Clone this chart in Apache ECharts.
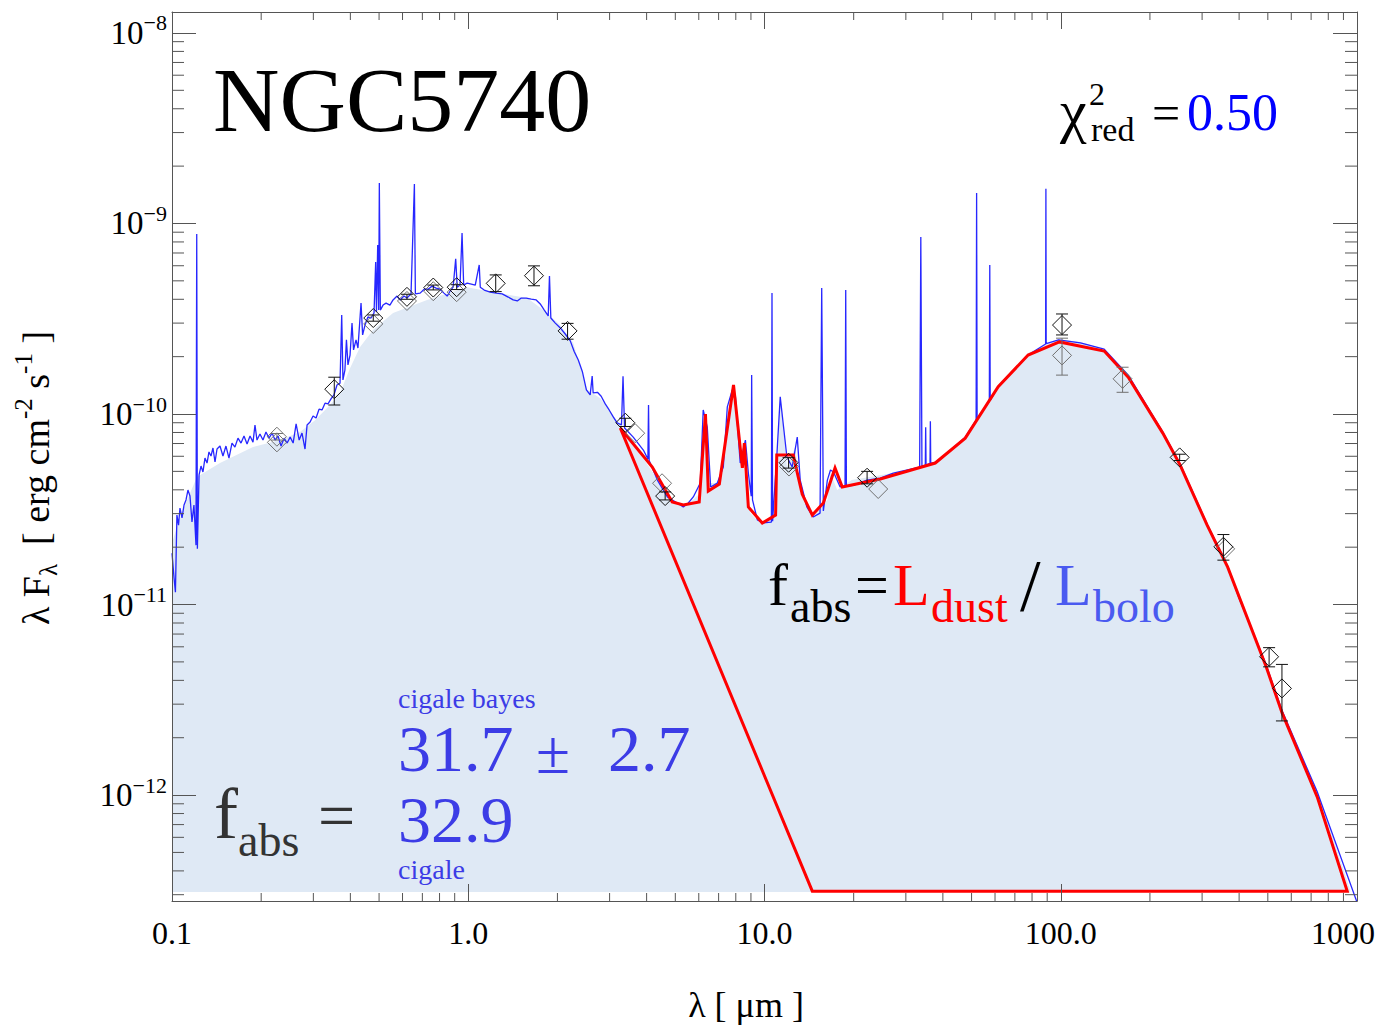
<!DOCTYPE html>
<html><head><meta charset="utf-8">
<script src="https://cdn.jsdelivr.net/npm/echarts@6.0.0/dist/echarts.min.js"></script>
<style>html,body{margin:0;padding:0;background:#fff;}#c{width:1383px;height:1027px;}</style>
</head><body><div id="c"></div>
<script>
// ---------------- DATA ----------------
// Axis ranges (micron, erg cm^-2 s^-1)
const X_MIN = 0.1, X_MAX = 1000;
const Y_MIN = 2.78e-13, Y_MAX = 1.288e-8;
const FILL_BASE = 3.1e-13;               // floor of the shaded model
const xTickExponents = [-1, 0, 1, 2, 3];
const xTickLabels = ['0.1', '1.0', '10.0', '100.0', '1000'];
const yTickExponents = [-12, -11, -10, -9, -8];
const yTickLabels = ['\u221212', '\u221211', '\u221210', '\u22129', '\u22128'];

// high-resolution model spectrum (blue line, with emission lines)
const specWave = [0.100,0.1016,0.1027,0.1039,0.1052,0.1064,0.1081,0.1098,0.1115,0.1132,0.1150,0.1168,0.1186,0.1205,0.1212,0.1218,0.1234,0.1253,0.1272,0.1292,0.1313,0.1333,0.1354,0.1375,0.1397,0.1419,0.1452,0.1486,0.1521,0.1557,0.1594,0.1631,0.1670,0.1710,0.1750,0.1792,0.1834,0.1877,0.1906,0.1936,0.1981,0.2028,0.2076,0.2125,0.2176,0.2228,0.2280,0.2334,0.2390,0.2447,0.2505,0.2564,0.2624,0.2687,0.2747,0.2812,0.2857,0.2925,0.2993,0.3064,0.3136,0.3209,0.3285,0.3362,0.3441,0.3522,0.3605,0.3691,0.374,0.3776,0.3834,0.388,0.3926,0.399,0.4052,0.410,0.418,0.4243,0.4346,0.440,0.4482,0.4585,0.4697,0.4808,0.487,0.490,0.4947,0.4985,0.501,0.505,0.5157,0.528,0.544,0.5574,0.575,0.5886,0.607,0.621,0.641,0.658,0.663,0.688,0.710,0.732,0.755,0.779,0.803,0.828,0.849,0.868,0.889,0.907,0.918,0.938,0.953,0.965,0.992,1.024,1.056,1.089,1.098,1.132,1.186,1.243,1.302,1.364,1.418,1.464,1.510,1.570,1.632,1.696,1.750,1.806,1.862,1.88,1.90,1.967,2.045,2.125,2.21,2.28,2.352,2.43,2.505,2.58,2.62,2.64,2.73,2.81,2.90,2.99,3.09,3.18,3.29,3.33,3.37,3.605,3.90,4.04,4.06,4.08,4.35,4.70,5.08,5.32,5.53,5.75,6.07,6.21,6.41,6.58,6.93,7.26,7.49,7.79,7.98,8.28,8.62,8.82,9.02,9.05,9.11,9.46,9.90,10.55,10.6,10.65,11.0,11.3,11.9,12.4,12.9,13.2,13.9,14.6,15.4,15.6,15.8,16.3,16.7,17.1,18.0,18.7,18.8,18.9,19.9,22.2,24.6,27.2,33.4,33.7,34.0,34.9,35.0,35.1,36.2,36.3,36.4,38.3,47.6,51.8,52.0,52.2,57.4,57.6,57.8,61.5,77.6,88.9,89.1,89.3,98.3,116.5,140.2,169,221,253,312,366,399,494,559,734,1000];
const specFlux = [1.86e-11,1.38e-11,1.16e-11,2.95e-11,2.61e-11,3.21e-11,2.85e-11,3.33e-11,3.54e-11,3.99e-11,3.71e-11,2.71e-11,3.33e-11,2.05e-11,8.8e-10,1.96e-11,4.79e-11,5.33e-11,4.96e-11,5.87e-11,5.53e-11,6.32e-11,6.02e-11,6.63e-11,5.60e-11,6.55e-11,6.79e-11,6.02e-11,6.79e-11,5.87e-11,7.04e-11,6.71e-11,7.47e-11,7.04e-11,7.67e-11,6.96e-11,7.67e-11,7.12e-11,8.76e-11,7.30e-11,7.85e-11,7.30e-11,8.04e-11,7.47e-11,7.94e-11,7.30e-11,7.67e-11,6.79e-11,7.47e-11,7.04e-11,7.56e-11,7.04e-11,8.87e-11,7.30e-11,7.94e-11,6.55e-11,8.76e-11,9.07e-11,9.76e-11,9.52e-11,1.06e-10,1.05e-10,1.14e-10,1.13e-10,1.20e-10,1.26e-10,1.42e-10,1.45e-10,3.31e-10,1.51e-10,1.70e-10,2.45e-10,1.81e-10,2.04e-10,3.0e-10,2.17e-10,2.45e-10,2.22e-10,3.82e-10,2.60e-10,2.93e-10,3.23e-10,3.19e-10,3.39e-10,6.28e-10,3.43e-10,7.71e-10,3.51e-10,1.63e-9,3.51e-10,3.73e-10,3.82e-10,3.73e-10,3.97e-10,4.16e-10,3.97e-10,4.16e-10,4.06e-10,4.27e-10,1.61e-9,4.27e-10,4.31e-10,4.52e-10,4.52e-10,4.69e-10,4.58e-10,4.52e-10,4.31e-10,4.16e-10,4.41e-10,4.63e-10,6.52e-10,4.63e-10,4.75e-10,8.91e-10,4.75e-10,4.87e-10,4.81e-10,4.75e-10,6.06e-10,4.63e-10,4.47e-10,4.36e-10,4.31e-10,4.27e-10,4.11e-10,3.97e-10,3.92e-10,4.06e-10,4.06e-10,4.01e-10,3.97e-10,3.78e-10,3.51e-10,3.27e-10,5.30e-10,3.19e-10,3.0e-10,2.83e-10,2.63e-10,2.42e-10,2.12e-10,1.92e-10,1.66e-10,1.34e-10,1.26e-10,1.58e-10,1.29e-10,1.30e-10,1.24e-10,1.13e-10,1.05e-10,9.63e-11,8.98e-11,8.76e-11,1.58e-10,8.44e-11,7.56e-11,6.47e-11,5.8e-11,1.115e-10,5.7e-11,4.50e-11,3.67e-11,3.41e-11,3.25e-11,3.41e-11,3.67e-11,4.34e-11,1.05e-10,8.53e-11,4.14e-11,4.34e-11,5.27e-11,1.09e-10,1.34e-10,1.23e-10,5.53e-11,7.30e-11,4.90e-11,3.7e-11,1.60e-10,3.54e-11,2.78e-11,2.68e-11,2.71e-11,4.31e-10,2.74e-11,5.95e-11,1.23e-10,5.95e-11,5.27e-11,7.56e-11,4.50e-11,3.25e-11,2.88e-11,3.02e-11,4.58e-10,3.1e-11,4.50e-11,5.08e-11,4.96e-11,4.14e-11,4.2e-11,4.47e-10,4.2e-11,4.22e-11,4.50e-11,4.61e-11,4.90e-11,5.27e-11,8.5e-10,5.3e-11,5.4e-11,8.53e-11,5.4e-11,5.5e-11,9.17e-11,5.5e-11,5.60e-11,7.56e-11,9.3e-11,1.445e-9,9.4e-11,1.17e-10,6.06e-10,1.18e-10,1.39e-10,2.04e-10,2.33e-10,1.52e-9,2.34e-10,2.45e-10,2.36e-10,2.19e-10,1.60e-10,8.04e-11,5.46e-11,2.64e-11,1.59e-11,1.09e-11,4.81e-12,2.76e-12,1.04e-12,2.74e-13];

// smooth total model (shaded area)
const modelWave = [0.1,0.1039,0.1106,0.1214,0.1452,0.1877,0.2316,0.2705,0.304,0.3415,0.3691,0.399,0.4314,0.477,0.5574,0.726,0.992,1.214,1.582,1.792,2.045,2.262,2.52,2.79,3.26,4.21,4.81,5.49,6.07,6.32,6.46,7.10,7.79,8.42,8.95,9.67,10.9,11.3,11.9,12.7,13.2,14.6,16.3,16.7,17.6,19.7,27.2,38.3,47.6,61.5,77.6,98.3,116.5,140.2,169,221,253,312,366,494,559,734,949];
const modelFlux = [2.1e-11,2.55e-11,3.33e-11,4.67e-11,5.53e-11,6.71e-11,7.30e-11,8.04e-11,9.28e-11,1.115e-10,1.29e-10,1.74e-10,2.25e-10,2.76e-10,3.39e-10,3.97e-10,4.63e-10,4.36e-10,4.06e-10,3.51e-10,2.93e-10,2.36e-10,1.34e-10,1.21e-10,8.76e-11,4.90e-11,3.54e-11,3.33e-11,3.85e-11,1.05e-10,4.34e-11,4.34e-11,1.29e-10,5.74e-11,3.02e-11,2.68e-11,2.88e-11,1.23e-10,5.27e-11,6.71e-11,3.85e-11,2.88e-11,3.54e-11,4.90e-11,3.99e-11,4.50e-11,4.90e-11,5.60e-11,7.56e-11,1.42e-10,2.09e-10,2.47e-10,2.39e-10,2.19e-10,1.60e-10,8.23e-11,5.60e-11,2.71e-11,1.63e-11,4.93e-12,2.83e-12,1.06e-12,3.17e-13];

// dust emission (red closed outline)
const dustWave = [3.26,4.18,4.88,5.32,6.02,6.32,6.46,7.04,7.86,8.42,8.55,8.82,9.83,10.9,11.0,12.5,13.4,14.5,15.8,17.3,18.3,24.6,37.7,47.6,61.5,77.6,99.0,140.2,169,221,253,312,366,494,559,734,927,14.5,3.26];
const dustFlux = [8.44e-11,5.27e-11,3.45e-11,3.33e-11,3.45e-11,1.0e-10,3.94e-11,4.29e-11,1.42e-10,5.21e-11,7.04e-11,3.25e-11,2.68e-11,2.95e-11,6.09e-11,6.09e-11,3.80e-11,2.95e-11,3.41e-11,5.21e-11,4.14e-11,4.56e-11,5.53e-11,7.47e-11,1.39e-10,2.04e-10,2.39e-10,2.14e-10,1.56e-10,7.94e-11,5.39e-11,2.61e-11,1.57e-11,4.70e-12,2.69e-12,9.78e-13,3.13e-13,3.13e-13,8.44e-11];

// observed photometry (black diamonds)
const obsWave = [0.353,0.478,0.621,0.762,0.914,1.238,1.667,2.164,3.39,4.62,12.06,22.2,101,252,354,505,558];
const obsFlux = [1.35e-10,3.19e-10,4.12e-10,4.61e-10,4.63e-10,4.85e-10,5.32e-10,2.73e-10,9.0e-11,3.71e-11,5.55e-11,4.63e-11,2.93e-10,5.92e-11,2.01e-11,5.32e-12,3.63e-12];
const obsLow  = [1.115e-10,3.07e-10,4.0e-10,4.48e-10,4.5e-10,4.39e-10,4.71e-10,2.47e-10,8.6e-11,3.54e-11,5.2e-11,4.3e-11,2.60e-10,5.7e-11,1.71e-11,4.71e-12,2.45e-12];
const obsHigh = [1.56e-10,3.31e-10,4.25e-10,4.75e-10,4.77e-10,5.37e-10,5.99e-10,2.99e-10,9.5e-11,3.9e-11,5.9e-11,5.0e-11,3.35e-10,6.15e-11,2.33e-11,5.94e-12,4.85e-12];

// secondary photometry (grey diamonds)
const grayWave = [0.226,0.226,0.478,0.621,0.762,0.914,3.66,4.51,12.1,24.2,101,161.7,359];
const grayFlux = [7.6e-11,7.1e-11,2.97e-10,3.92e-10,4.41e-10,4.36e-10,7.93e-11,4.33e-11,5.3e-11,4.04e-11,2.03e-10,1.53e-10,1.96e-11];
const grayLow  = [7.3e-11,7.1e-11,2.97e-10,3.92e-10,4.41e-10,4.36e-10,7.93e-11,4.33e-11,5.3e-11,4.04e-11,1.60e-10,1.30e-10,1.96e-11];
const grayHigh = [7.9e-11,7.1e-11,2.97e-10,3.92e-10,4.41e-10,4.36e-10,7.93e-11,4.33e-11,5.3e-11,4.04e-11,2.50e-10,1.76e-10,1.96e-11];

// ---------------- CHART ----------------
const SERIF = '"Liberation Serif", "DejaVu Serif", serif';
const chart = echarts.init(document.getElementById('c'), null, {renderer: 'svg'});

// minor tick positions (2..9 x 10^n)
const minorTicks = [];
for (let e = -13; e <= -8; e++) for (let m = 2; m <= 9; m++) {
  const v = m * Math.pow(10, e);
  if (v > Y_MIN && v < Y_MAX) minorTicks.push([X_MIN, v, 1]);
}
for (let e = -1; e <= 2; e++) for (let m = 2; m <= 9; m++) minorTicks.push([m * Math.pow(10, e), Y_MIN, 0]);

function expOf(v) { const l = Math.log10(v); const e = Math.round(l); return Math.abs(l - e) < 1e-6 ? e : null; }

function xAxisCfg(pos) {
  return {
    type: 'log', logBase: 10, min: X_MIN, max: X_MAX, position: pos, z: 10,
    axisLine: {show: true, onZero: false, lineStyle: {color: '#555', width: 1}},
    axisTick: {show: true, inside: true, length: 17, lineStyle: {color: '#555', width: 1}},
    splitLine: {show: false},
    axisLabel: pos === 'bottom' ? {
      show: true, margin: 16, color: '#000', fontFamily: SERIF, fontSize: 32,
      formatter: v => { const e = expOf(v); if (e === null) return ''; const i = xTickExponents.indexOf(e); if (i < 0) return ''; return e === 3 ? '{r|' + xTickLabels[i] + '}' : xTickLabels[i]; },
      rich: {r: {fontFamily: SERIF, fontSize: 32, color: '#000', padding: [0, 28, 0, 0]}}
    } : {show: false}
  };
}
function yAxisCfg(pos) {
  return {
    type: 'log', logBase: 10, min: Y_MIN, max: Y_MAX, position: pos, z: 10,
    axisLine: {show: true, onZero: false, lineStyle: {color: '#555', width: 1}},
    axisTick: {show: true, inside: true, length: 24, lineStyle: {color: '#555', width: 1}},
    splitLine: {show: false},
    axisLabel: pos === 'left' ? {
      show: true, margin: 5, color: '#000',
      formatter: v => { const e = expOf(v); if (e === null) return ''; const i = yTickExponents.indexOf(e); if (i < 0) return ''; return '{b|10}{e|' + yTickLabels[i] + '}'; },
      rich: {
        b: {fontFamily: SERIF, fontSize: 33, color: '#000', lineHeight: 42},
        e: {fontFamily: SERIF, fontSize: 22, color: '#000', lineHeight: 20, verticalAlign: 'top'}
      }
    } : {show: false}
  };
}

function markerSeries(name, wave, flux, low, high, color, z) {
  return {
    type: 'custom', name, z, silent: true, clip: false,
    data: wave.map((w, i) => [w, flux[i], low[i], high[i]]),
    renderItem: (params, api) => {
      const p = api.coord([api.value(0), api.value(1)]);
      const lo = api.coord([api.value(0), api.value(2)])[1];
      const hi = api.coord([api.value(0), api.value(3)])[1];
      const st = {stroke: color, lineWidth: 1, fill: 'none'};
      const ch = [];
      if (Math.abs(lo - hi) > 1) {
        ch.push({type: 'line', shape: {x1: p[0], y1: hi, x2: p[0], y2: lo}, style: st});
        ch.push({type: 'line', shape: {x1: p[0] - 6, y1: hi, x2: p[0] + 6, y2: hi}, style: st});
        ch.push({type: 'line', shape: {x1: p[0] - 6, y1: lo, x2: p[0] + 6, y2: lo}, style: st});
      }
      const r = 9.5;
      ch.push({type: 'polygon', shape: {points: [[p[0], p[1] - r], [p[0] + r, p[1]], [p[0], p[1] + r], [p[0] - r, p[1]]]}, style: st});
      return {type: 'group', children: ch};
    }
  };
}

function txt(x, y, text, size, color, align) {
  return {type: 'text', x, y, z: 100, silent: true,
    style: {text, font: size + 'px ' + SERIF, fill: color, textAlign: align || 'left', textVerticalAlign: 'middle'}};
}

const CIG = '#3c3ce6';
const option = {
  animation: false,
  backgroundColor: '#fff',
  textStyle: {fontFamily: SERIF},
  grid: {left: 172, right: 26, top: 12, bottom: 126, containLabel: false},
  xAxis: [xAxisCfg('bottom'), xAxisCfg('top')],
  yAxis: [yAxisCfg('left'), yAxisCfg('right')],
  series: [
    { // shaded total model
      type: 'custom', name: 'model', z: 1, silent: true, clip: false,
      data: [[modelWave[0], modelFlux[0]]],
      renderItem: (params, api) => {
        const pts = modelWave.map((w, i) => api.coord([w, modelFlux[i]]));
        pts.push(api.coord([modelWave[modelWave.length - 1], FILL_BASE]));
        pts.push(api.coord([modelWave[0], FILL_BASE]));
        return {type: 'polygon', shape: {points: pts}, style: {fill: '#dfe9f5', stroke: 'none'}};
      }
    },
    {
      type: 'line', name: 'spectrum', z: 2, silent: true, symbol: 'none', showSymbol: false,
      data: specWave.map((w, i) => [w, specFlux[i]]),
      lineStyle: {color: '#1010ff', width: 1.3, opacity: 0.9}
    },
    {
      type: 'line', name: 'dust', z: 3, silent: true, symbol: 'none', showSymbol: false,
      data: dustWave.map((w, i) => [w, dustFlux[i]]),
      lineStyle: {color: '#ff0000', width: 3, join: 'miter', miterLimit: 3}
    },
    markerSeries('gray', grayWave, grayFlux, grayLow, grayHigh, '#707070', 4),
    markerSeries('obs', obsWave, obsFlux, obsLow, obsHigh, '#111', 5),
    {
      type: 'custom', name: 'minorTicks', z: 6, silent: true, clip: false,
      data: minorTicks,
      renderItem: (params, api) => {
        const rect = params.coordSys;
        const st = {stroke: '#555', lineWidth: 1};
        if (api.value(2) === 0) {
          const x = api.coord([api.value(0), Y_MIN])[0];
          return {type: 'group', children: [
            {type: 'line', shape: {x1: x, y1: rect.y + rect.height, x2: x, y2: rect.y + rect.height - 8}, style: st},
            {type: 'line', shape: {x1: x, y1: rect.y, x2: x, y2: rect.y + 8}, style: st}
          ]};
        }
        const y = api.coord([X_MIN, api.value(1)])[1];
        return {type: 'group', children: [
          {type: 'line', shape: {x1: rect.x, y1: y, x2: rect.x + 12, y2: y}, style: st},
          {type: 'line', shape: {x1: rect.x + rect.width, y1: y, x2: rect.x + rect.width - 12, y2: y}, style: st}
        ]};
      }
    }
  ],
  graphic: [
    txt(213, 100, 'NGC5740', 92, '#000'),
    txt(1060, 111, '\u03c7', 60, '#000'),
    txt(1089, 94, '2', 32, '#000'),
    txt(1091, 129, 'red', 34, '#000'),
    txt(1152, 113, '=', 50, '#000'),
    txt(1187, 112, '0.50', 52, '#0000ff'),
    // fabs = Ldust / Lbolo
    txt(768, 585, 'f', 60, '#000'),
    txt(790, 606, 'abs', 46, '#000'),
    txt(855, 585, '=', 60, '#000'),
    txt(893, 585, 'L', 60, '#ff0000'),
    txt(931, 606, 'dust', 46, '#ff0000'),
    txt(1020, 586, '/', 74, '#000'),
    txt(1055, 585, 'L', 60, '#4a5af0'),
    txt(1093, 606, 'bolo', 46, '#4a5af0'),
    // cigale block
    txt(398, 698, 'cigale bayes', 28, CIG),
    txt(398, 748, '31.7', 66, CIG),
    txt(536, 752, '\u00b1', 62, CIG),
    txt(608, 748, '2.7', 66, CIG),
    txt(398, 819, '32.9', 66, CIG),
    txt(398, 869, 'cigale', 28, CIG),
    txt(214, 814, 'f', 72, '#333'),
    txt(238, 840, 'abs', 46, '#333'),
    txt(318, 815, '=', 66, '#333'),
    // axis titles
    txt(746, 1005, '\u03bb [ \u03bcm ]', 36, '#000', 'center'),
    {
      type: 'text', x: 36, y: 478, rotation: Math.PI / 2, z: 100, silent: true,
      style: {
        text: '{n|\u03bb F}{s|\u03bb}{n|  [ erg cm}{p|-2}{n| s}{p|-1}{n| ]}',
        textAlign: 'center', textVerticalAlign: 'middle', fill: '#000',
        rich: {
          n: {fontFamily: SERIF, fontSize: 38, lineHeight: 50, fill: '#000'},
          s: {fontFamily: SERIF, fontSize: 25, lineHeight: 25, verticalAlign: 'bottom', fill: '#000'},
          p: {fontFamily: SERIF, fontSize: 25, lineHeight: 25, verticalAlign: 'top', fill: '#000'}
        }
      }
    }
  ]
};
chart.setOption(option);
</script></body></html>
